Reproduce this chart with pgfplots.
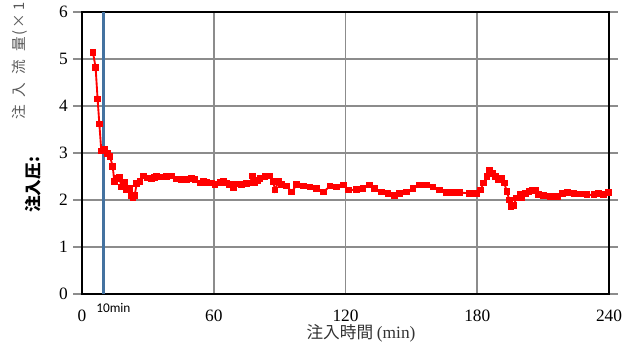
\documentclass[border=0pt]{standalone}
\usepackage{pgfplots}
\pgfplotsset{compat=1.18}
\usepackage{fontspec}
\setmainfont{Liberation Serif}
\newfontfamily\cjk{Noto Sans CJK JP}
\newfontfamily\sans{Carlito}
\definecolor{gridgray}{RGB}{140,140,140}
\definecolor{steelblue}{RGB}{68,114,160}
\begin{document}
\begin{tikzpicture}
\useasboundingbox (0,0) rectangle (476.25pt,261.75pt);
\begin{axis}[
  at={(61.5pt,41.25pt)}, anchor=south west,
  scale only axis, width=395.25pt, height=211.5pt,
  xmin=0, xmax=240, ymin=0, ymax=6,
  xtick={0,60,120,180,240}, ytick={0,1,2,3,4,5,6},
  grid=major, major grid style={gridgray, line width=1.2pt},
  axis line style={black, line width=1.4pt},
  tick align=outside, major tick length=6.5pt,
  xtick style={draw=none},
  ytick style={gridgray, line width=1.2pt},
  /pgf/number format/assume math mode=true,
  tick label style={font=\fontsize{13}{15}\selectfont},
  xticklabel style={inner sep=0pt, yshift=-5.5pt},
  yticklabel style={inner sep=0pt, xshift=-4pt},
  clip=false,
]
\addplot[steelblue, line width=2.3pt, forget plot] coordinates {(10,0) (10,6)};
\addplot[red, line width=1.4pt, mark=square*, mark size=1.8pt, mark options={solid, fill=red, draw=red}] coordinates {
(5,5.14) (6.2,4.82) (7.1,4.15) (7.9,3.62) (8.8,3.04) (10.3,3.08) (11.5,2.99) (12.8,2.92) (14,2.71) (14.7,2.40)
(15.8,2.46) (17,2.48) (18,2.28) (19.3,2.37) (20.3,2.21) (21.5,2.24) (22.5,2.10) (23.2,2.05) (24,2.10) (24.9,2.35)
(26.4,2.39) (27.9,2.51) (29.7,2.47) (31.5,2.46) (33,2.48) (34,2.51) (36.3,2.49) (38.6,2.50) (40.8,2.51) (43.1,2.45)
(45.4,2.43) (47.6,2.43) (49.9,2.46) (51.4,2.43) (53.7,2.36) (55.2,2.39) (56.7,2.37) (59,2.36) (60.5,2.33) (62.8,2.37)
(64.3,2.39) (65.8,2.36) (67.3,2.33) (68.9,2.27) (70.4,2.34) (72.7,2.33) (74.9,2.35) (76.5,2.36) (77.6,2.51) (78.8,2.37)
(80,2.42) (81,2.46) (83.3,2.50) (85.6,2.51) (87.1,2.39) (87.9,2.21) (89.4,2.39) (91,2.33) (93.2,2.30) (95.5,2.17)
(97.8,2.33) (100.8,2.30) (103.9,2.28) (106.9,2.24) (110,2.17) (113,2.30) (116,2.28) (119,2.32) (121.3,2.21) (125,2.22)
(128,2.24) (131,2.32) (133.3,2.24) (136.4,2.17) (139.4,2.14) (142.4,2.10) (144.7,2.14) (147.8,2.17) (150.8,2.24) (153.8,2.32)
(156.9,2.32) (159.9,2.28) (162.9,2.21) (166,2.16) (169,2.16) (172,2.16) (176.6,2.14) (179.6,2.14) (181.4,2.21) (182.9,2.36)
(184.4,2.50) (185.6,2.64) (187.2,2.57) (188.2,2.50) (189.7,2.43) (191.2,2.46) (192.3,2.36) (193.5,2.18) (194.6,2.00) (195.4,1.86)
(196.6,1.89) (197.8,2.04) (199.4,2.11) (200.4,2.04) (201.9,2.14) (203.5,2.18) (205,2.21) (206.5,2.20) (208,2.11) (210.3,2.09)
(213.3,2.07) (216.4,2.07) (218.7,2.14) (221,2.16) (224,2.14) (227,2.13) (230,2.11) (233.1,2.11) (235.3,2.14) (237.6,2.12) (239.9,2.16)
};
\end{axis}
\node[rotate=90, font=\cjk\bfseries\fontsize{12.5}{14}\selectfont, inner sep=0pt] at (24.75pt,123pt) {注入圧:};
\node[rotate=90, anchor=west, font=\cjk\fontsize{11}{12}\selectfont, text=black!65, inner sep=0pt] at (15pt,171.75pt) {注\hspace{6pt}入\hspace{6pt}流\hspace{6pt}量\hspace{1pt}(\hspace{2pt}×\hspace{2pt}1\hspace{2pt}0};
\node[font=\cjk\fontsize{12.5}{14}\selectfont, text=black!80, inner sep=0pt] at (270.75pt,11.5pt) {注入時間 {\rmfamily\fontsize{13}{15}\selectfont (min)}};
\node[anchor=west, font=\sans\fontsize{10}{12}\selectfont, inner sep=0pt] at (72pt,30.5pt) {10min};
\end{tikzpicture}
\end{document}
